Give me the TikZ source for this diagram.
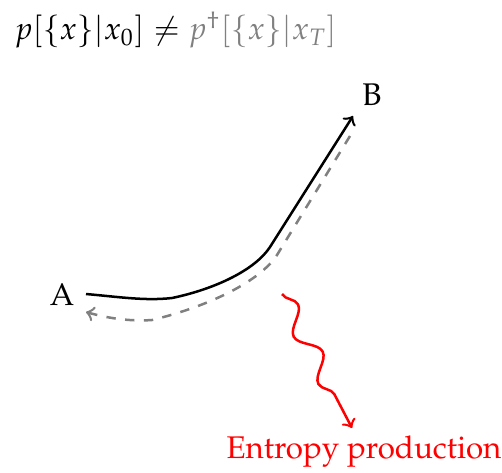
\documentclass[tikz,border=0pt]{standalone}
\usepackage[T1]{fontenc}
\usepackage{mathpazo}
\usetikzlibrary{decorations.pathmorphing}
\tikzset{
  lbl/.style={inner sep=0pt},
  fwd/.style={thick,->,black},
  bwd/.style={thick,->,gray,dashed},
  ent/.style={thick,->,red,decorate,decoration={snake,amplitude=3pt,segment length=17pt,post length=6pt}}
}
\begin{document}
\begin{tikzpicture}[x=0.3193pt,y=-0.3193pt]
\useasboundingbox (0,0) rectangle (502,472);
\node[lbl,anchor=west] (eq) at (14,30) {$p[\{x\}|x_0] \neq {\color{gray} p^\dagger[\{x\}|x_T]}$};
\node[lbl] (A) at (62,295) {A};
\node[lbl] (B) at (372,95) {B};
\node[lbl,red] (E) at (364,452) {Entropy production};
\coordinate (a1) at (86,294);
\coordinate (b1) at (353,116);
\coordinate (b2) at (350,136);
\coordinate (a2) at (86,312);
\coordinate (s1) at (282,294);
\coordinate (s2) at (352,428);
\draw[fwd] (a1) .. controls (120,297) and (145,301) .. (172,298) .. controls (215,289) and (255,270) .. (270,247) -- (b1);
\draw[bwd] (b2) -- (277,255) .. controls (260,281) and (210,306) .. (152,320) .. controls (125,322) and (100,316) .. (a2);
\draw[ent] (s1) -- (s2);
\end{tikzpicture}
\end{document}
